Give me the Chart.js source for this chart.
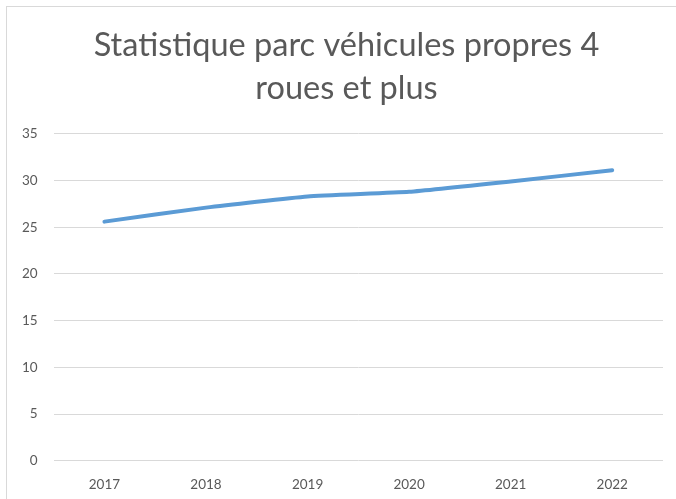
<!DOCTYPE html>
<html>
<head>
<meta charset="utf-8">
<script src="https://cdn.jsdelivr.net/npm/chart.js@4/dist/chart.umd.min.js"></script>
<style>
  html, body { margin: 0; padding: 0; background: #fff; overflow: hidden; }
  #wrap { position: relative; width: 676px; height: 499px; }
  #frame { position: absolute; left: 6px; top: 6px; width: 700px; height: 520px; border: 1px solid #d9d9d9; box-sizing: border-box; }
  canvas { position: absolute; left: 0; top: 0; }
</style>
</head>
<body>
<div id="wrap">
  <div id="frame"></div>
  <canvas id="c" width="676" height="499"></canvas>
</div>
<script>
const titleLines = ["Statistique parc véhicules propres 4", "roues et plus"];
const categories = ["2017", "2018", "2019", "2020", "2021", "2022"];
const values = [25.6, 27.1, 28.3, 28.8, 29.9, 31.1];
const yMin = 0, yMax = 35, yStep = 5;

const fontFamily = "Lato, 'Open Sans', sans-serif";

const titleShift = {
  id: 'titleShift',
  afterLayout(chart) {
    const t = chart.titleBlock;
    if (t) { t.left += 24; }
  }
};

new Chart(document.getElementById('c'), {
  type: 'line',
  data: {
    labels: categories,
    datasets: [{
      data: values,
      borderColor: '#5B9BD5',
      backgroundColor: '#5B9BD5',
      borderWidth: 4,
      borderCapStyle: 'round',
      borderJoinStyle: 'round',
      pointRadius: 0,
      tension: 0.15,
      fill: false
    }]
  },
  plugins: [titleShift],
  options: {
    responsive: false,
    animation: false,
    layout: { padding: { left: 6, right: 13, top: 24, bottom: -10 } },
    plugins: {
      legend: { display: false },
      tooltip: { enabled: false },
      title: {
        display: true,
        text: titleLines,
        color: '#595959',
        font: { family: fontFamily, size: 32.5, weight: 'normal', lineHeight: 1.32 },
        padding: { top: 0, bottom: 24 }
      }
    },
    scales: {
      x: {
        offset: true,
        grid: { display: false, drawTicks: false },
        border: { display: false },
        ticks: { color: '#595959', font: { family: fontFamily, size: 13.5 }, padding: 16 }
      },
      y: {
        min: yMin, max: yMax,
        ticks: { stepSize: yStep, color: '#595959', font: { family: fontFamily, size: 13.5 }, padding: 16 },
        grid: { color: '#d9d9d9', lineWidth: 1, drawTicks: false },
        border: { display: false }
      }
    }
  }
});
</script>
</body>
</html>
